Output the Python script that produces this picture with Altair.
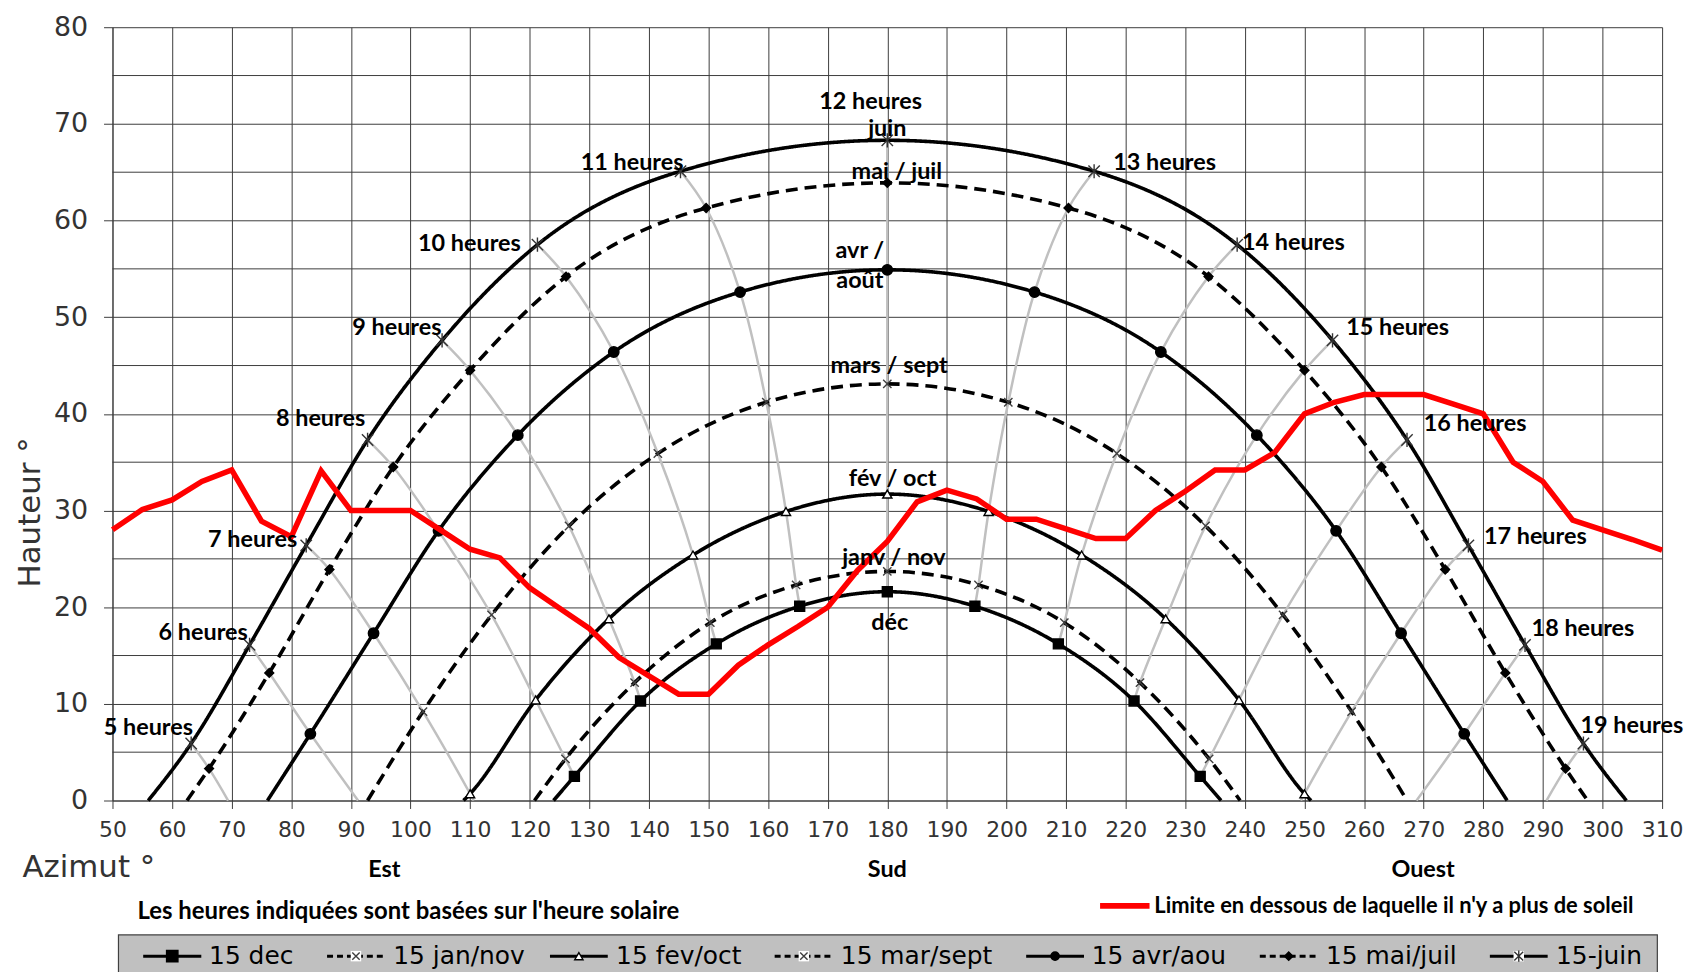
import altair as alt
import pandas as pd

# ------------------------------------------------------------------ data
series_names = ["15 dec", "15 jan/nov", "15 fev/oct", "15 mar/sept",
                "15 avr/aou", "15 mai/juil", "15-juin"]

dec_hours = [8, 9, 10, 11, 12, 13, 14, 15, 16]
dec_az = [127.5, 138.6, 151.3, 165.3, 180.0, 194.7, 208.7, 221.4, 232.5]
dec_h = [2.5, 10.3, 16.2, 20.1, 21.6, 20.1, 16.2, 10.3, 2.5]
dec_horizon = [124.0, 236.0]

jan_hours = [8, 9, 10, 11, 12, 13, 14, 15, 16]
jan_az = [126.0, 137.6, 150.3, 164.7, 180.0, 195.3, 209.7, 222.4, 234.0]
jan_h = [4.3, 12.2, 18.4, 22.3, 23.7, 22.3, 18.4, 12.2, 4.3]
jan_horizon = [120.8, 239.2]

fev_hours = [7, 8, 9, 10, 11, 12, 13, 14, 15, 16, 17]
fev_az = [110.0, 121.0, 133.3, 147.4, 163.0, 180.0, 197.0, 212.6, 226.7, 239.0, 250.0]
fev_h = [0.7, 10.4, 18.8, 25.4, 29.9, 31.7, 29.9, 25.4, 18.8, 10.4, 0.7]
fev_horizon = [108.9, 251.1]

mar_hours = [7, 8, 9, 10, 11, 12, 13, 14, 15, 16, 17]
mar_az = [102.1, 113.6, 126.6, 141.5, 159.7, 180.0, 200.3, 218.5, 233.4, 246.4, 257.9]
mar_h = [9.2, 19.2, 28.4, 35.9, 41.2, 43.1, 41.2, 35.9, 28.4, 19.2, 9.2]
mar_horizon = [92.8, 267.2]

avr_hours = [6, 7, 8, 9, 10, 11, 12, 13, 14, 15, 16, 17, 18]
avr_az = [83.2, 93.8, 104.7, 118.0, 134.1, 155.3, 180.0, 204.7, 225.9, 242.0, 255.3, 266.2, 276.8]
avr_h = [6.9, 17.3, 27.9, 37.8, 46.4, 52.6, 54.9, 52.6, 46.4, 37.8, 27.9, 17.3, 6.9]
avr_horizon = [76.0, 284.0]

mai_hours = [5, 6, 7, 8, 9, 10, 11, 12, 13, 14, 15, 16, 17, 18, 19]
mai_az = [66.2, 76.3, 86.4, 97.1, 110.0, 126.1, 149.6, 180.0, 210.4, 233.9, 250.0, 262.9, 273.6, 283.7, 293.8]
mai_h = [3.3, 13.2, 23.9, 34.5, 44.5, 54.2, 61.3, 63.9, 61.3, 54.2, 44.5, 34.5, 23.9, 13.2, 3.3]
mai_horizon = [62.5, 297.5]

juin_hours = [5, 6, 7, 8, 9, 10, 11, 12, 13, 14, 15, 16, 17, 18, 19]
juin_az = [63.2, 73.0, 82.5, 92.8, 105.3, 121.3, 145.3, 180.0, 214.7, 238.7, 254.7, 267.2, 277.5, 287.0, 296.8]
juin_h = [5.9, 16.1, 26.4, 37.3, 47.6, 57.5, 65.1, 68.3, 65.1, 57.5, 47.6, 37.3, 26.4, 16.1, 5.9]
juin_horizon = [56.0, 304.0]

# where the hour lines reach the horizon
hour_end_hours = [5, 6, 7, 17, 18, 19]
hour_end_az = [69.4, 91.2, 110.6, 249.4, 268.8, 290.6]

# limit under which there is no more sun
red_az = [50, 55, 60, 65, 70, 75, 80, 85, 90, 95, 100, 105, 110, 115, 120, 125, 130,
          135, 140, 145, 150, 155, 160, 165, 170, 175, 180, 185, 190, 195, 200, 205,
          210, 215, 220, 225, 230, 235, 240, 245, 250, 255, 260, 265, 270, 275, 280,
          285, 290, 295, 300, 305, 310]
red_h = [28.0, 30.1, 31.1, 33.0, 34.2, 28.9, 27.3, 34.1, 30.0, 30.0, 30.0, 28.0, 26.0,
         25.1, 22.0, 19.9, 17.8, 14.8, 12.9, 11.0, 11.0, 14.0, 16.1, 18.0, 20.0, 23.8,
         26.8, 30.9, 32.1, 31.2, 29.1, 29.1, 28.1, 27.1, 27.1, 30.0, 32.0, 34.2, 34.2,
         36.0, 40.0, 41.2, 42.0, 42.0, 42.0, 41.0, 40.0, 35.0, 33.0, 29.0, 28.0, 27.0, 25.9]

x_ticks = [50, 60, 70, 80, 90, 100, 110, 120, 130, 140, 150, 160, 170, 180, 190, 200,
           210, 220, 230, 240, 250, 260, 270, 280, 290, 300, 310]
y_ticks = [0, 10, 20, 30, 40, 50, 60, 70, 80]
y_minor = [5, 15, 25, 35, 45, 55, 65, 75]

# annotation texts
left_labels = ["5 heures", "6 heures", "7 heures", "8 heures", "9 heures", "10 heures", "11 heures"]
right_labels = ["13 heures", "14 heures", "15 heures", "16 heures", "17 heures", "18 heures", "19 heures"]
center_labels = ["12 heures", "juin", "mai / juil", "avr /", "août", "mars / sept",
                 "fév / oct", "janv / nov", "déc"]
compass_labels = ["Est", "Sud", "Ouest"]
note_text = "Les heures indiquées sont basées sur l'heure solaire"
limit_text = "Limite en dessous de laquelle il n'y a plus de soleil"

# ------------------------------------------------------------------ layout
left_label_pos = [(63.5, 7.55), (72.7, 17.3), (81.0, 26.9), (92.4, 39.5), (105.2, 48.9),
                  (118.5, 57.6), (145.8, 66.0)]
right_label_pos = [(217.9, 66.0), (239.5, 57.7), (257.0, 48.9), (270.0, 38.9),
                   (280.1, 27.3), (288.1, 17.7), (296.3, 7.7)]
center_label_pos = [(177.2, 72.3), (180.0, 69.5), (181.6, 65.0), (175.4, 56.8),
                    (175.4, 53.7), (180.3, 44.9), (180.9, 33.3), (181.1, 25.1), (180.4, 18.4)]
compass_pos = [(95.6, -7.15), (180.0, -7.15), (269.9, -7.15)]
note_pos = (54.2, -11.5)
limit_line_pos = (215.7, 224.0, -10.9)
limit_text_pos = (224.8, -10.9)
legend_box = (51.0, 309.2, -13.9, -19.0)
legend_y = -16.1
legend_sym_start = [55.15, 86.0, 123.4, 161.1, 203.3, 242.5, 281.1]
legend_sym_end = [64.9, 95.7, 133.1, 170.9, 213.0, 252.2, 290.8]
legend_text_x = [66.2, 97.1, 134.5, 172.2, 214.3, 253.6, 292.2]

X_PATH = "M-1,-1L1,1M-1,1L1,-1"
STAR_PATH = "M-1,-1L1,1M-1,1L1,-1M0,-1.25L0,1.25"
SOLID = [1, 0]
DASH = [12, 7]
styles = {
    "15 dec": dict(dash=SOLID, shape="square", size=100, filled=True, fill="black", stroke="black", lsize=130),
    "15 jan/nov": dict(dash=DASH, shape=X_PATH, size=70, filled=False, fill="none", stroke="#404040", lsize=55),
    "15 fev/oct": dict(dash=SOLID, shape="triangle-up", size=85, filled=True, fill="white", stroke="black", lsize=70),
    "15 mar/sept": dict(dash=DASH, shape=X_PATH, size=70, filled=False, fill="none", stroke="#404040", lsize=55),
    "15 avr/aou": dict(dash=SOLID, shape="circle", size=110, filled=True, fill="black", stroke="black", lsize=70),
    "15 mai/juil": dict(dash=DASH, shape="diamond", size=80, filled=True, fill="black", stroke="black", lsize=70),
    "15-juin": dict(dash=SOLID, shape=STAR_PATH, size=130, filled=False, fill="none", stroke="#333333", lsize=80),
}

# ------------------------------------------------------------------ frames
raw = {
    "15 dec": (dec_hours, dec_az, dec_h, dec_horizon),
    "15 jan/nov": (jan_hours, jan_az, jan_h, jan_horizon),
    "15 fev/oct": (fev_hours, fev_az, fev_h, fev_horizon),
    "15 mar/sept": (mar_hours, mar_az, mar_h, mar_horizon),
    "15 avr/aou": (avr_hours, avr_az, avr_h, avr_horizon),
    "15 mai/juil": (mai_hours, mai_az, mai_h, mai_horizon),
    "15-juin": (juin_hours, juin_az, juin_h, juin_horizon),
}

path_frames = {}
point_frames = {}
hour_rows = []
order_top_down = list(reversed(series_names))  # juin first
for name, (hrs, az, hh, hz) in raw.items():
    pts = pd.DataFrame({"az": az, "h": hh, "hour": hrs})
    point_frames[name] = pts
    path = pd.concat([pd.DataFrame({"az": [hz[0]], "h": [0.0]}), pts[["az", "h"]],
                      pd.DataFrame({"az": [hz[1]], "h": [0.0]})], ignore_index=True)
    path_frames[name] = path
    idx = order_top_down.index(name)
    for a, b, c in zip(hrs, az, hh):
        hour_rows.append({"hour": a, "az": b, "h": c, "idx": idx})
for a, b in zip(hour_end_hours, hour_end_az):
    hour_rows.append({"hour": a, "az": b, "h": 0.0, "idx": 7})
hour_df = pd.DataFrame(hour_rows)

red_df = pd.DataFrame({"az": red_az, "h": red_h})
minor_df = pd.DataFrame({"h": y_minor})

# ------------------------------------------------------------------ encodings
GRID = "#3c3c3c"
xs = alt.Scale(domain=[50, 310], nice=False, zero=False)
ys = alt.Scale(domain=[0, 80], nice=False, zero=False)
x_axis = alt.Axis(values=x_ticks, grid=True, gridColor=GRID, gridWidth=1,
                  domainColor=GRID, domainWidth=1, tickColor=GRID, tickSize=8, tickWidth=1,
                  labelFont="DejaVu Sans", labelFontSize=22, labelColor="#333333",
                  labelPadding=11, labelFlush=False, labelOverlap=False,
                  title="Azimut °", titleFont="DejaVu Sans", titleFontSize=31,
                  titleFontWeight="normal", titleColor="#333333", titleX=-91, titleY=76,
                  titleAlign="left", titleBaseline="alphabetic", titleAnchor="start")
y_axis = alt.Axis(values=y_ticks, grid=True, gridColor=GRID, gridWidth=1,
                  domainColor=GRID, domainWidth=1, tickColor=GRID, tickSize=9, tickWidth=1,
                  labelFont="DejaVu Sans", labelFontSize=27, labelColor="#333333",
                  labelPadding=16, labelFlush=False, labelOverlap=False,
                  title="Hauteur °", titleFont="DejaVu Sans", titleFontSize=31,
                  titleFontWeight="normal", titleColor="#333333", titleX=-73, titleY=487,
                  titleAngle=270, titleAlign="center", titleBaseline="alphabetic")


def X(f="az"):
    return alt.X(f"{f}:Q", scale=xs, axis=x_axis)


def Y(f="h"):
    return alt.Y(f"{f}:Q", scale=ys, axis=y_axis)


LABEL_FONT = "Lato"
layers = []

# minor grid lines
layers.append(alt.Chart(minor_df).mark_rule(color=GRID, strokeWidth=1).encode(y=Y()))

# hour lines (grey)
layers.append(alt.Chart(hour_df).mark_line(color="#C0C0C0", strokeWidth=2.5,
                                           interpolate="catmull-rom").encode(
    x=X(), y=Y(), detail="hour:N", order="idx:Q"))

# sun paths
for name in series_names:
    st = styles[name]
    layers.append(alt.Chart(path_frames[name]).mark_line(
        color="black", strokeWidth=3.6, strokeDash=st["dash"], interpolate="monotone").encode(
        x=X(), y=Y(), order="az:Q"))

# markers
for name in series_names:
    st = styles[name]
    kw = dict(shape=st["shape"], size=st["size"], opacity=1, strokeWidth=1.4, stroke=st["stroke"])
    if st["filled"]:
        kw.update(filled=True, fill=st["fill"])
    else:
        kw.update(filled=False)
    layers.append(alt.Chart(point_frames[name]).mark_point(**kw).encode(x=X(), y=Y()))

# limit line (red)
layers.append(alt.Chart(red_df).mark_line(color="#FF0000", strokeWidth=5.5).encode(x=X(), y=Y()))

# labels
def text_df(texts, pos):
    return pd.DataFrame({"label": texts, "az": [p[0] for p in pos], "h": [p[1] for p in pos]})


for texts, pos, align in [(left_labels, left_label_pos, "right"),
                          (right_labels, right_label_pos, "left"),
                          (center_labels, center_label_pos, "center")]:
    layers.append(alt.Chart(text_df(texts, pos)).mark_text(
        font=LABEL_FONT, fontSize=23.5, fontWeight="bold", color="black", align=align,
        baseline="middle").encode(x=X(), y=Y(), text="label:N"))

layers.append(alt.Chart(text_df(compass_labels, compass_pos)).mark_text(
    font=LABEL_FONT, fontSize=23.5, fontWeight="bold", color="black", align="center",
    baseline="middle").encode(x=X(), y=Y(), text="label:N"))
layers.append(alt.Chart(text_df([note_text], [note_pos])).mark_text(
    font=LABEL_FONT, fontSize=24, fontWeight="bold", color="black", align="left",
    baseline="middle").encode(x=X(), y=Y(), text="label:N"))
layers.append(alt.Chart(pd.DataFrame({"az": [limit_line_pos[0]], "az2": [limit_line_pos[1]],
                                      "h": [limit_line_pos[2]]})).mark_rule(
    color="#FF0000", strokeWidth=6).encode(x=X(), x2="az2:Q", y=Y()))
layers.append(alt.Chart(text_df([limit_text], [limit_text_pos])).mark_text(
    font=LABEL_FONT, fontSize=22, fontWeight="bold", color="black", align="left",
    baseline="middle").encode(x=X(), y=Y(), text="label:N"))

# legend box
layers.append(alt.Chart(pd.DataFrame({"az": [legend_box[0]], "az2": [legend_box[1]],
                                      "h": [legend_box[2]], "h2": [legend_box[3]]})).mark_rect(
    fill="#C0C0C0", stroke="#404040", strokeWidth=1.2).encode(
    x=X(), x2="az2:Q", y=Y(), y2="h2:Q"))

for i, name in enumerate(series_names):
    st = styles[name]
    dash = [1, 0] if st["dash"] == SOLID else [6, 4]
    layers.append(alt.Chart(pd.DataFrame({"az": [legend_sym_start[i]], "az2": [legend_sym_end[i]],
                                          "h": [legend_y]})).mark_rule(
        color="black", strokeWidth=3, strokeDash=dash).encode(x=X(), x2="az2:Q", y=Y()))
    mid = pd.DataFrame({"az": [(legend_sym_start[i] + legend_sym_end[i]) / 2], "h": [legend_y]})
    if not st["filled"]:
        layers.append(alt.Chart(mid).mark_point(shape="square", size=110, filled=True,
                                                fill="white", opacity=1, strokeWidth=0).encode(x=X(), y=Y()))
    kw = dict(shape=st["shape"], size=st["lsize"], opacity=1, strokeWidth=1.4, stroke=st["stroke"])
    if st["filled"]:
        kw.update(filled=True, fill=st["fill"])
    else:
        kw.update(filled=False)
    layers.append(alt.Chart(mid).mark_point(**kw).encode(x=X(), y=Y()))
    layers.append(alt.Chart(pd.DataFrame({"label": [name], "az": [legend_text_x[i]],
                                          "h": [legend_y]})).mark_text(
        font="DejaVu Sans", fontSize=25, color="black", align="left", baseline="middle").encode(
        x=X(), y=Y(), text="label:N"))

chart = alt.layer(*layers).properties(
    width=1557, height=777,
    padding={"left": 105, "top": 17, "right": 22, "bottom": 170},
    autosize=alt.AutoSizeParams(type="none"),
    background="white",
).configure_view(stroke=None)

chart.save("out.html", embed_options={"renderer": "svg", "actions": False})
